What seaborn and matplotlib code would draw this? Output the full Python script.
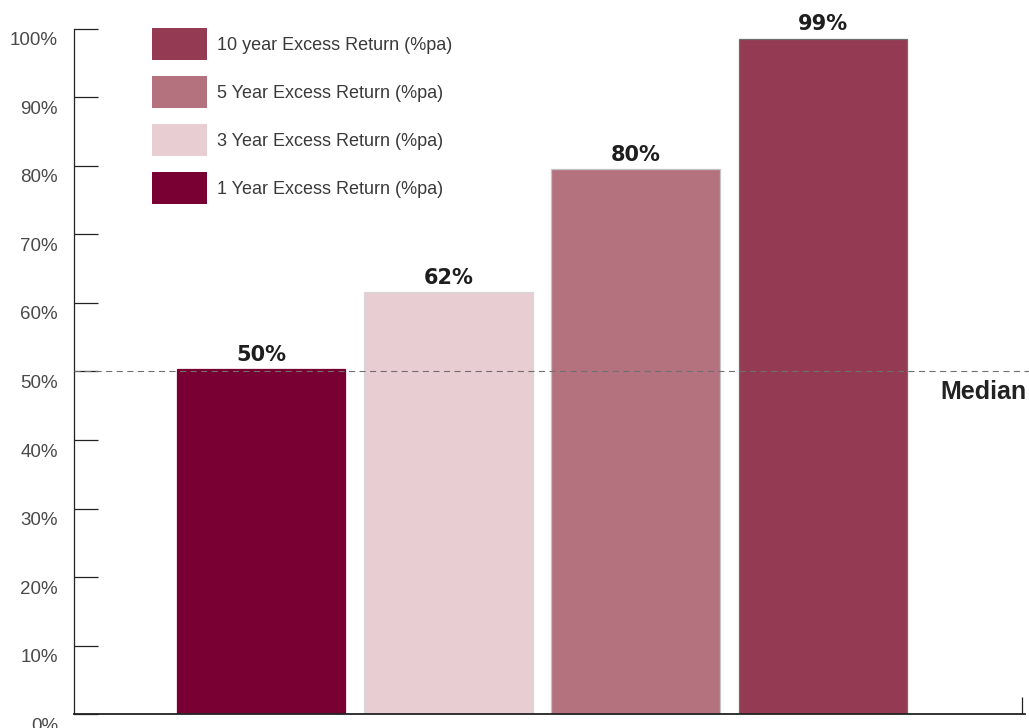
import matplotlib
matplotlib.use('Agg')
import matplotlib.pyplot as plt
import matplotlib.transforms as mtransforms
from matplotlib.patches import Patch
import seaborn as sns
import pandas as pd

# chart data
categories = ['1 Year Excess Return (%pa)', '3 Year Excess Return (%pa)',
              '5 Year Excess Return (%pa)', '10 year Excess Return (%pa)']
values = [50.4, 61.6, 79.6, 98.6]
colors = ['#780032', '#E8CDD2', '#B4727F', '#943B53']
edges = ['#780032', '#d8d8d8', '#c4c4c4', '#6e6e6e']
median = 50
yticks = list(range(0, 101, 10))

df = pd.DataFrame({'horizon': categories, 'pct': values})

sns.set_style('white')
plt.rcParams['font.family'] = ['Liberation Sans', 'DejaVu Sans']

fig = plt.figure(figsize=(10.29, 7.28), dpi=100)
ax = fig.add_axes([0.0719, 0.0192, 0.9242, 0.941])

sns.barplot(data=df, x='horizon', y='pct', hue='horizon',
            palette=dict(zip(categories, colors)), width=0.9,
            legend=False, ax=ax, saturation=1)

for bar, ec in zip(ax.patches, edges):
    bar.set_edgecolor(ec)
    bar.set_linewidth(0.9)

# value labels
for cont in ax.containers:
    ax.bar_label(cont, labels=[f'{round(v)}%' for v in cont.datavalues],
                 padding=3, fontsize=15, fontweight='bold', color='#1e1e1e',
                 family=['DejaVu Sans'])

ax.set_xlim(-1.0, 4.08)
ax.set_ylim(0, 100)

# median line
ax.axhline(median, xmin=0, xmax=1.004, color='#6f6f6f', lw=0.8,
           dashes=(5.5, 4), zorder=5, clip_on=False)
blend = mtransforms.blended_transform_factory(ax.transAxes, ax.transData)
ax.annotate('Median', xy=(1.002, median), xycoords=blend,
            xytext=(0, -15), textcoords='offset points',
            ha='right', va='center', fontsize=18, fontweight='bold',
            color='#222222', annotation_clip=False)

# axes styling
ax.set_yticks(yticks)
ax.set_yticklabels([f'{t}%' for t in yticks])
ax.tick_params(axis='y', left=True, direction='in', length=17, width=0.9,
               color='#222222', pad=11.5, labelsize=13.5, labelcolor='#4a4a4a')
offset = mtransforms.ScaledTranslation(0, -10 / 100, fig.dpi_scale_trans)
for lab in ax.get_yticklabels():
    lab.set_transform(lab.get_transform() + offset)

ax.set_xticks([4.065])
ax.set_xticklabels([''])
ax.tick_params(axis='x', bottom=True, direction='in', length=12, width=0.9,
               color='#222222')

ax.set_xlabel('')
ax.set_ylabel('')
sns.despine(ax=ax, top=True, right=True)
ax.spines['left'].set_color('#222222')
ax.spines['left'].set_linewidth(0.9)
ax.spines['bottom'].set_color('#222222')
ax.spines['bottom'].set_linewidth(1.3)

# legend (reverse order)
handles = [Patch(facecolor=c, edgecolor='none') for c in colors[::-1]]
ax.legend(handles=handles, labels=categories[::-1], loc='upper left',
          bbox_to_anchor=(152 / 1029, 1 - 28 / 728), bbox_transform=fig.transFigure,
          frameon=False, fontsize=13, handlelength=3.05, handleheight=2.35,
          labelspacing=0.89, handletextpad=0.55, borderpad=0, borderaxespad=0,
          labelcolor='#3a3a3a')

fig.savefig('out.png', dpi=100)
